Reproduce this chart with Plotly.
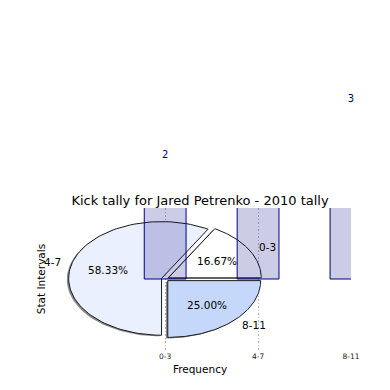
import numpy as np
import plotly.graph_objects as go

# ---- data ----
categories = ["0-3", "4-7", "8-11"]
kick_counts = [2, 7, 3]
title_text = "Kick tally for Jared Petrenko - 2010 tally"
x_title = "Frequency"
y_title = "Stat Intervals"

# ---- styles ----
slice_colors = ["#ffffff", "#eaf0fd", "#c5d8fb"]
explode = 0.04
font_family = "DejaVu Sans"
navy = "#000080"

W = H = 374  # page body adds 8px margin
# plot area in figure pixels
PL, PR, PT, PB = 41, 343, 200, 342
xr = [-1.25, 2.0]
yr = [-1.25, 1.25]
ppu_x = (PR - PL) / (xr[1] - xr[0])
ppu_y = (PB - PT) / (yr[1] - yr[0])
label_lift_px = 4.5

fig = go.Figure()

total = float(sum(kick_counts))
wedges = []
start = 0.0
for cat, val, col in zip(categories, kick_counts, slice_colors):
    frac = val / total
    a0, a1 = start * 2 * np.pi, (start + frac) * 2 * np.pi
    mid = 0.5 * (a0 + a1)
    ox, oy = explode * np.cos(mid), explode * np.sin(mid)
    th = np.linspace(a0, a1, 90)
    xs = np.concatenate([[0.0], np.cos(th), [0.0]]) + ox
    ys = np.concatenate([[0.0], np.sin(th), [0.0]]) + oy
    wedges.append((cat, frac, col, mid, ox, oy, xs, ys))
    start += frac

for cat, frac, col, mid, ox, oy, xs, ys in wedges:
    fig.add_trace(go.Scatter(
        x=xs - 0.02, y=ys - 0.02, mode="lines", fill="toself",
        fillcolor="rgba(60,62,66,0.6)", line=dict(width=0),
        hoverinfo="skip", showlegend=False, xaxis="x", yaxis="y"))

annotations = []
for cat, frac, col, mid, ox, oy, xs, ys in wedges:
    fig.add_trace(go.Scatter(
        x=xs, y=ys, mode="lines", fill="toself", fillcolor=col,
        line=dict(color="#1a1a1a", width=1),
        hoverinfo="skip", showlegend=False, xaxis="x", yaxis="y"))
    px_, py_ = ox + 0.6 * np.cos(mid), oy + 0.6 * np.sin(mid)
    annotations.append(dict(x=px_, y=py_, xref="x", yref="y",
                            text="%.2f%%" % (frac * 100), showarrow=False,
                            xanchor="center", yanchor="middle",
                            font=dict(family=font_family, size=10.5, color="black")))
    lx, ly = ox + 1.1 * np.cos(mid), oy + 1.1 * np.sin(mid)
    annotations.append(dict(x=lx, y=ly, xref="x", yref="y", text=cat,
                            showarrow=False,
                            xanchor="left" if lx > 0 else "right",
                            yanchor="middle",
                            font=dict(family=font_family, size=10.5, color="black")))

# bars on overlaying axes (drawn on top of pie)
fig.add_trace(go.Bar(
    x=categories, y=kick_counts, width=0.45,
    marker=dict(color="rgba(0,0,128,0.2)", line=dict(color=navy, width=1)),
    hoverinfo="skip", showlegend=False, xaxis="x2", yaxis="y2"))

# value labels on a taller axis pair with the same scale
fig.add_trace(go.Scatter(
    x=categories, y=kick_counts, mode="text", text=[str(v) for v in kick_counts],
    textposition="top center", cliponaxis=False,
    textfont=dict(family=font_family, size=10, color=navy),
    hoverinfo="skip", showlegend=False, xaxis="x3", yaxis="y3"))

dom_x = [PL / W, PR / W]
dom_y = [(H - PB) / H, (H - PT) / H]
x3_range = [xr[0], xr[0] + (W - PL) / ppu_x]
lift = label_lift_px / ppu_y
y3_range = [yr[0] - lift, yr[0] - lift + PB / ppu_y]

fig.update_layout(
    width=W, height=H,
    margin=dict(l=0, r=0, t=0, b=0),
    paper_bgcolor="white", plot_bgcolor="rgba(0,0,0,0)",
    font=dict(family=font_family, color="black"),
    title=dict(text=title_text, x=192 / W, xref="container", xanchor="center",
               y=1 - 192 / H, yref="container", yanchor="middle",
               font=dict(family=font_family, size=13, color="black")),
    xaxis=dict(domain=dom_x, range=xr, tickmode="array",
               tickvals=list(range(len(categories))),
               ticktext=categories, showgrid=True, gridcolor="#b4b4b4",
               griddash="1.5px,2px", gridwidth=1.3, zeroline=False, showline=False,
               ticks="", tickfont=dict(family=font_family, size=7.5, color="#222"),
               title=dict(text=x_title, standoff=6,
                          font=dict(family=font_family, size=10.5)),
               automargin=False, fixedrange=True),
    yaxis=dict(domain=dom_y, range=yr, showticklabels=False, showgrid=False,
               zeroline=False, showline=False, ticks="",
               title=dict(text=y_title, standoff=0,
                          font=dict(family=font_family, size=10.5)),
               automargin=False, fixedrange=True),
    xaxis2=dict(overlaying="x", type="category", range=xr, visible=False,
                showgrid=False, fixedrange=True),
    yaxis2=dict(overlaying="y", range=yr, visible=False, showgrid=False,
                fixedrange=True),
    xaxis3=dict(domain=[PL / W, 1.0], type="category", range=x3_range,
                visible=False, showgrid=False, fixedrange=True, anchor="y3"),
    yaxis3=dict(domain=[(H - PB) / H, 1.0], range=y3_range, visible=False,
                showgrid=False, fixedrange=True, anchor="x3"),
    annotations=annotations,
)

fig.write_html("out.html")
